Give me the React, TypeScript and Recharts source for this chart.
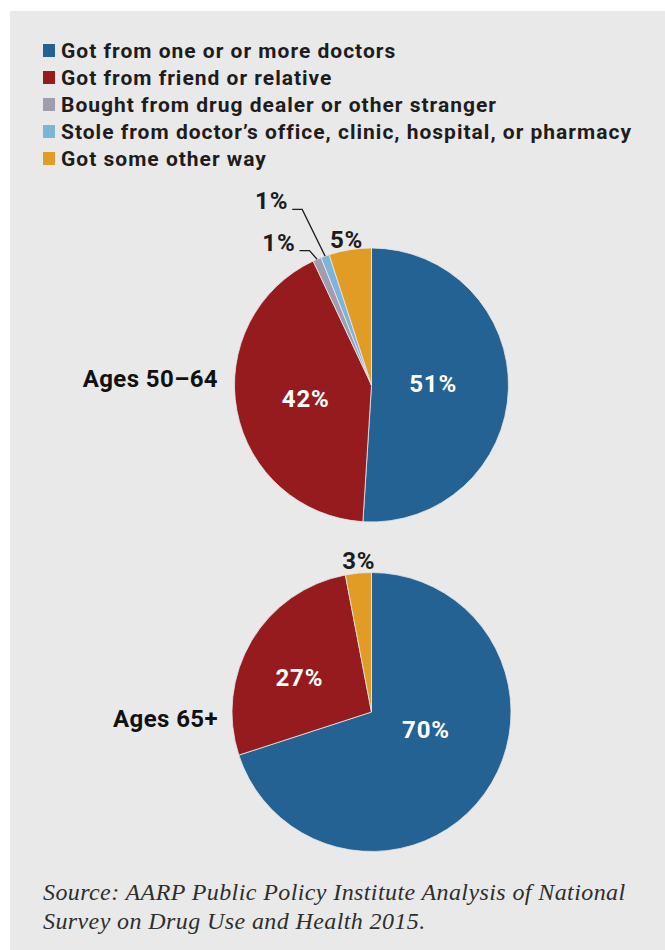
import { PieChart, Pie, Cell } from "recharts"

const categories = [
  "Got from one or or more doctors",
  "Got from friend or relative",
  "Bought from drug dealer or other stranger",
  "Stole from doctor\u2019s office, clinic, hospital, or pharmacy",
  "Got some other way",
]
const colors = ["#246293", "#951b1e", "#a19cae", "#7db4da", "#e09c25"]

const ages5064 = [51, 42, 1, 1, 5]
const ages65 = [70, 27, 0, 0, 3]

const groupLabels = ["Ages 50\u201364", "Ages 65+"]
const sourceLines = [
  "Source: AARP Public Policy Institute Analysis of National",
  "Survey on Drug Use and Health 2015.",
]

const BG = "#e9e9e9"
const INK = "#1e1c1d"
const RAD = Math.PI / 180

// label placement per category index: "in" = inside slice, "out" = above rim, "lead" = with leader line
type Place =
  | { kind: "in"; frac: number; dx: number; dy: number }
  | { kind: "out"; dx: number; dy: number }
  | { kind: "lead"; ex: number; ey: number }

const place5064: Record<number, Place> = {
  0: { kind: "in", frac: 0.45, dx: 0, dy: -3.5 },
  1: { kind: "in", frac: 0.5, dx: 1.5, dy: 1 },
  2: { kind: "lead", ex: -7.6, ey: -8.6 },
  3: { kind: "lead", ex: -22.9, ey: -46.7 },
  4: { kind: "out", dx: -3.5, dy: -10 },
}
const place65: Record<number, Place> = {
  0: { kind: "in", frac: 0.46, dx: 2.5, dy: -20 },
  1: { kind: "in", frac: 0.58, dx: -2.5, dy: 7 },
  4: { kind: "out", dx: 0.5, dy: -12.6 },
}

function toData(values: number[]) {
  return values
    .map((v, i) => ({ name: categories[i], value: v, cat: i }))
    .filter((d) => d.value > 0)
}

function makeLabel(places: Record<number, Place>) {
  return (props: any) => {
    const { cx, cy, midAngle, outerRadius, payload, value } = props
    const cat = payload?.cat ?? props.cat
    const p = places[cat]
    if (!p) return null
    const cos = Math.cos(-midAngle * RAD)
    const sin = Math.sin(-midAngle * RAD)
    const txt = `${value}%`
    const font = {
      fontFamily: "Roboto, sans-serif",
      fontWeight: 700,
      fontSize: 24,
      letterSpacing: 0.8,
    }
    if (p.kind === "in") {
      const r = outerRadius * p.frac
      const x = cx + r * cos + p.dx
      const y = cy + r * sin + p.dy
      return (
        <text x={x} y={y + 8.5} textAnchor="middle" fill="#fff" {...font}>
          {txt}
        </text>
      )
    }
    const ox = cx + outerRadius * cos
    const oy = cy + outerRadius * sin
    if (p.kind === "out") {
      return (
        <text x={ox + p.dx} y={oy + p.dy + 8.5} textAnchor="middle" fill={INK} {...font}>
          {txt}
        </text>
      )
    }
    const ex = ox + p.ex
    const ey = oy + p.ey
    return (
      <g>
        <polyline
          points={`${ox},${oy} ${ex},${ey} ${ex - 10},${ey}`}
          fill="none"
          stroke={INK}
          strokeWidth={1.3}
        />
        <text x={ex - 14} y={ey} textAnchor="end" fill={INK} {...font}>
          {txt}
        </text>
      </g>
    )
  }
}

export default function App() {
  const d1 = toData(ages5064)
  const d2 = toData(ages65)
  return (
    <div
      style={{
        position: "absolute",
        left: 0,
        top: 0,
        width: 665,
        height: 950,
        background: "#fff",
        overflow: "hidden",
      }}
    >
      <div
        style={{ position: "absolute", left: 10, top: 11, width: 655, height: 939, background: BG }}
      />
      <div style={{ position: "absolute", left: 0, top: 0 }}>
        <PieChart width={665} height={950} margin={{ top: 0, right: 0, bottom: 0, left: 0 }}>
          <Pie
            data={d1}
            dataKey="value"
            nameKey="name"
            cx={371.5}
            cy={385}
            outerRadius={137}
            startAngle={90}
            endAngle={-270}
            stroke={BG}
            strokeWidth={0.8}
            label={makeLabel(place5064)}
            labelLine={false}
            isAnimationActive={false}
          >
            {d1.map((d) => (
              <Cell key={d.cat} fill={colors[d.cat]} />
            ))}
          </Pie>
          <Pie
            data={d2}
            dataKey="value"
            nameKey="name"
            cx={371.5}
            cy={712}
            outerRadius={139.5}
            startAngle={90}
            endAngle={-270}
            stroke={BG}
            strokeWidth={0.8}
            label={makeLabel(place65)}
            labelLine={false}
            isAnimationActive={false}
          >
            {d2.map((d) => (
              <Cell key={d.cat} fill={colors[d.cat]} />
            ))}
          </Pie>
        </PieChart>
      </div>
      <svg
        width={665}
        height={950}
        style={{ position: "absolute", left: 0, top: 0, pointerEvents: "none" }}
      >
        {categories.map((c, i) => (
          <g key={c}>
            <rect x={43} y={44 + i * 27} width={12} height={13} fill={colors[i]} />
            <text
              x={61}
              y={58 + i * 27}
              fill={INK}
              fontFamily="Roboto, sans-serif"
              fontWeight={700}
              fontSize={21}
              letterSpacing={1}
            >
              {c}
            </text>
          </g>
        ))}
        {groupLabels.map((g, i) => (
          <text
            key={g}
            x={218}
            y={i === 0 ? 387 : 727}
            textAnchor="end"
            fill="#111"
            fontFamily="Roboto, sans-serif"
            fontWeight={700}
            fontSize={24}
            letterSpacing={0.4}
          >
            {g}
          </text>
        ))}
        {sourceLines.map((s, i) => (
          <text
            key={s}
            x={43}
            y={900 + i * 29}
            fill="#2e2e2e"
            fontFamily="'Liberation Serif', serif"
            fontStyle="italic"
            fontSize={24}
            letterSpacing={0.4}
          >
            {s}
          </text>
        ))}
      </svg>
    </div>
  )
}
